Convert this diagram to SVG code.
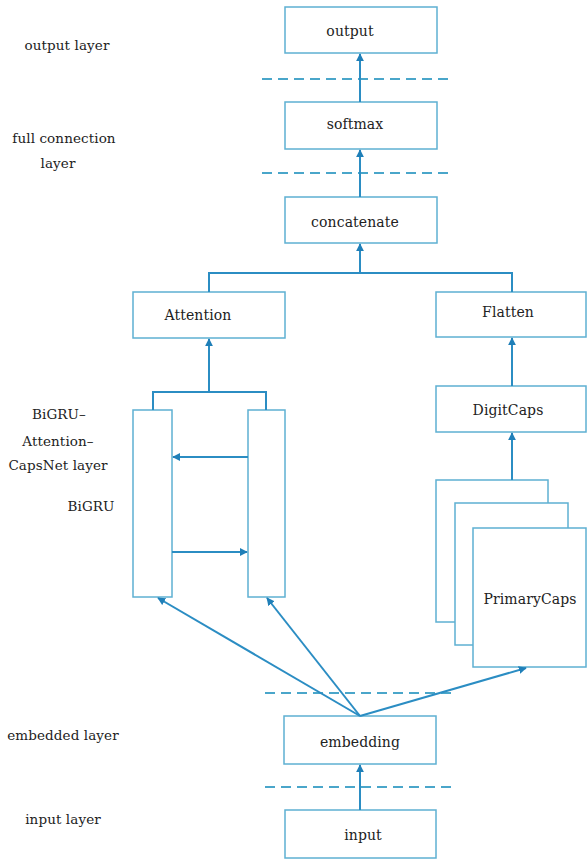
<svg xmlns="http://www.w3.org/2000/svg" width="587" height="862" viewBox="0 0 587 862">
<style>
.box{fill:#fff;stroke:#5eb0d2;stroke-width:1.5}
text{font-family:'DejaVu Serif','Liberation Serif',serif;fill:#222;text-anchor:middle}
.lbl{font-size:14px;letter-spacing:0.1px}
.side{font-size:13.5px;letter-spacing:0.1px}
.con{fill:none;stroke:#2b8dc3;stroke-width:2}
.dash{fill:none;stroke:#4aa6ca;stroke-width:2;stroke-dasharray:10 6}
</style>
<defs>
<marker id="ah" viewBox="0 0 10 10" refX="9" refY="5" markerWidth="4" markerHeight="4" orient="auto" markerUnits="strokeWidth">
<path d="M0,0 L10,5 L0,10 z" fill="#1f7fb8"/>
</marker>
</defs>
<rect width="587" height="862" fill="#fff"/>
<g id="side-labels">
<text class="side" x="67" y="50">output layer</text>
<text class="side" x="64" y="143">full connection</text>
<text class="side" x="58" y="168">layer</text>
<text class="side" x="59" y="419">BiGRU–</text>
<text class="side" x="58" y="446">Attention–</text>
<text class="side" x="58" y="470">CapsNet layer</text>
<text class="side" x="91" y="511">BiGRU</text>
<text class="side" x="63" y="740">embedded layer</text>
<text class="side" x="63" y="824">input layer</text>
</g>
<g id="dashes">
<line class="dash" x1="262" y1="79" x2="452" y2="79"/>
<line class="dash" x1="262" y1="173" x2="452" y2="173"/>
<line class="dash" x1="265" y1="693" x2="452" y2="693"/>
<line class="dash" x1="265" y1="787" x2="452" y2="787"/>
</g>
<g id="output"><rect class="box" x="285" y="7" width="152" height="46"/><text class="lbl" x="350" y="36">output</text></g>
<g id="softmax"><rect class="box" x="285" y="102" width="152" height="47"/><text class="lbl" x="355" y="129">softmax</text></g>
<g id="concatenate"><rect class="box" x="285" y="197" width="152" height="46"/><text class="lbl" x="355" y="227">concatenate</text></g>
<g id="attention"><rect class="box" x="133" y="292" width="152" height="46"/><text class="lbl" x="198" y="320">Attention</text></g>
<g id="flatten"><rect class="box" x="436" y="292" width="150" height="45"/><text class="lbl" x="508" y="317">Flatten</text></g>
<g id="digitcaps"><rect class="box" x="436" y="386" width="150" height="46"/><text class="lbl" x="508" y="415">DigitCaps</text></g>
<g id="bigru-left"><rect class="box" x="133" y="410" width="39" height="187"/></g>
<g id="bigru-right"><rect class="box" x="248" y="410" width="37" height="187"/></g>
<g id="primarycaps">
<rect class="box" x="436" y="480" width="112" height="142"/>
<rect class="box" x="455" y="503" width="113" height="142"/>
<rect class="box" x="473" y="528" width="113" height="139"/>
<text class="lbl" x="530" y="604">PrimaryCaps</text>
</g>
<g id="embedding"><rect class="box" x="284" y="716" width="152" height="48"/><text class="lbl" x="360" y="747">embedding</text></g>
<g id="input"><rect class="box" x="285" y="810" width="151" height="48"/><text class="lbl" x="363" y="840">input</text></g>
<g id="connectors">
<line class="con" x1="360" y1="810" x2="360" y2="765" marker-end="url(#ah)"/>
<line class="con" x1="360" y1="716" x2="158" y2="598" marker-end="url(#ah)"/>
<line class="con" x1="360" y1="716" x2="267" y2="598" marker-end="url(#ah)"/>
<line class="con" x1="360" y1="716" x2="526" y2="668" marker-end="url(#ah)"/>
<path class="con" d="M153,410 V392 H266 V410"/>
<line class="con" x1="209" y1="392" x2="209" y2="339" marker-end="url(#ah)"/>
<line class="con" x1="248" y1="457" x2="173" y2="457" marker-end="url(#ah)"/>
<line class="con" x1="172" y1="552" x2="247" y2="552" marker-end="url(#ah)"/>
<line class="con" x1="512" y1="480" x2="512" y2="433" marker-end="url(#ah)"/>
<line class="con" x1="512" y1="386" x2="512" y2="338" marker-end="url(#ah)"/>
<path class="con" d="M209,292 V273 H512 V292"/>
<line class="con" x1="360" y1="273" x2="360" y2="244" marker-end="url(#ah)"/>
<line class="con" x1="360" y1="197" x2="360" y2="150" marker-end="url(#ah)"/>
<line class="con" x1="360" y1="102" x2="360" y2="54" marker-end="url(#ah)"/>
</g>
</svg>
